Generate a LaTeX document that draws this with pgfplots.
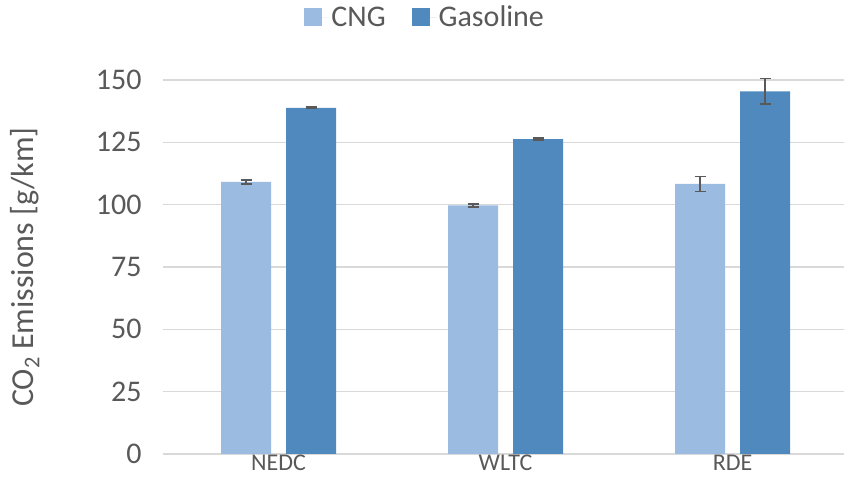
\documentclass[border=0pt]{standalone}
\usepackage{fontspec}
\setmainfont{Carlito}
\usepackage{pgfplots}
\pgfplotsset{compat=1.18}

\definecolor{cngblue}{HTML}{9BBBE1}
\definecolor{gasblue}{HTML}{4F89BE}
\definecolor{txtgray}{HTML}{595959}
\definecolor{gridgray}{HTML}{D9D9D9}
\definecolor{errgray}{HTML}{595959}

\begin{document}
\begin{tikzpicture}
\begin{axis}[
    at={(0,0)}, anchor=south west,
    scale only axis,
    width=681pt, height=374pt,
    xmin=-0.509, xmax=2.491,
    ymin=0, ymax=150,
    ybar, bar width=50pt,
    xtick={0,1,2},
    xticklabels={NEDC,WLTC,RDE},
    ytick={0,25,50,75,100,125,150},
    ymajorgrids=true,
    grid style={line width=1.5pt, gridgray},
    axis line style={draw=none},
    tick style={draw=none},
    clip=false,
    /pgf/number format/assume math mode=true,
    ticklabel style={text=txtgray},
    yticklabel style={font=\fontsize{30}{36}\selectfont, xshift=-18pt},
    xticklabel style={font=\fontsize{24}{28}\selectfont, yshift=7pt},
    ylabel={CO\textsubscript{2} Emissions [g/km]},
    ylabel style={at={(axis description cs:-0.203,0.5)}, anchor=center,
        rotate=0, font=\fontsize{32}{38}\selectfont, text=txtgray},
    legend columns=2,
    legend style={at={(0.385,1.168)}, anchor=center, draw=none, fill=none,
        font=\fontsize{30}{36}\selectfont, text=txtgray,
        /tikz/every even column/.append style={column sep=24pt}},
    legend image code/.code={\fill[#1,draw=none] (0pt,-9pt) rectangle (18pt,9pt);
        \path (0pt,0pt) -- (25pt,0pt);},
    error bars/error bar style={line width=1.5pt, errgray},
    error bars/error mark options={rotate=90, mark size=5.5pt, line width=1.5pt, errgray},
]
\addplot[fill=cngblue, draw=none, bar shift=-32.5pt,
    error bars/.cd, y dir=both, y explicit]
coordinates {
    (0,109.1) +- (0,0.8)
    (1,99.7) +- (0,0.6)
    (2,108.3) +- (0,3.0)
};
\addplot[fill=gasblue, draw=none, bar shift=32.5pt,
    error bars/.cd, y dir=both, y explicit]
coordinates {
    (0,138.8) +- (0,0.3)
    (1,126.3) +- (0,0.4)
    (2,145.4) +- (0,5.1)
};
\legend{CNG, Gasoline}
\end{axis}
\pgfresetboundingbox
\path[use as bounding box] (-163pt,-46pt) rectangle (681pt,454pt);
\end{tikzpicture}
\end{document}
